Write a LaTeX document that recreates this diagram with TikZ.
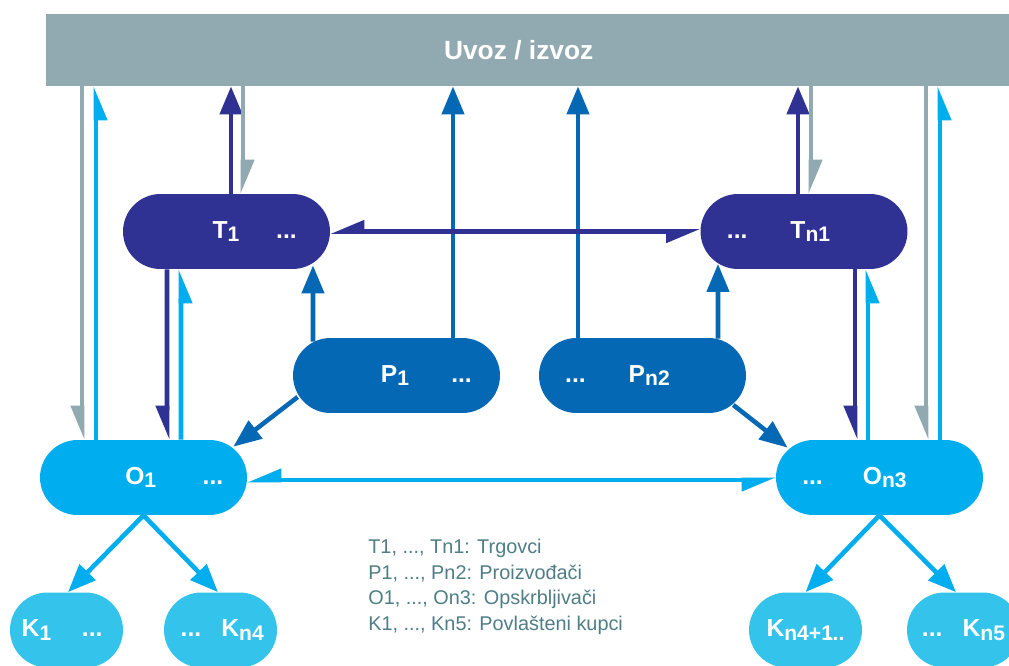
\documentclass[tikz,border=0pt]{standalone}
\usepackage{fontspec}
\setmainfont{Liberation Sans}
\usetikzlibrary{arrows.meta,calc}

\definecolor{hdrgray}{RGB}{145,169,176}
\definecolor{trdnavy}{RGB}{48,50,147}
\definecolor{prdblue}{RGB}{4,104,180}
\definecolor{supcyan}{RGB}{0,174,239}
\definecolor{cuscyan}{RGB}{51,195,235}
\definecolor{legteal}{RGB}{79,126,134}

\newcommand{\idx}[1]{\raisebox{-2pt}{\fontsize{12}{12}\selectfont #1}}

\begin{document}
\begin{tikzpicture}[
    x=0.02cm, y=-0.02cm,
    hdr/.style={rectangle, fill=hdrgray, minimum width=19.26cm, minimum height=1.44cm, inner sep=0pt, text=white, font=\fontsize{15}{15}\selectfont\bfseries},
    box/.style={rectangle, rounded corners=0.75cm, minimum height=1.5cm, inner sep=0pt, text=white, font=\fontsize{14}{14}\selectfont\bfseries},
    trader/.style={box, fill=trdnavy, minimum width=4.14cm},
    producer/.style={box, fill=prdblue, minimum width=4.14cm},
    supplier/.style={box, fill=supcyan, minimum width=4.14cm},
    customer/.style={box, fill=cuscyan, minimum width=2.26cm},
    flow/.style={line width=2.6pt, -{Triangle[length=16pt, width=12.5pt]}},
    halfr/.style={line width=2.6pt, -{Triangle[length=16pt, width=12.5pt, right]}},
    halfl/.style={line width=2.6pt, -{Triangle[length=16pt, width=12.5pt, left]}},
    both/.style={line width=2.6pt, {Triangle[length=16pt, width=12.5pt, right]}-{Triangle[length=16pt, width=12.5pt, right]}}
]
    \path[use as bounding box, fill=white] (0,0) rectangle (1009,666);

    % Import / export bar
    \node[hdr] (io) at (527.5,50) {Uvoz / izvoz\hspace*{10pt}};

    % Traders, producers, suppliers
    \node[trader] (t1) at (226.5,231.5) {\hspace*{32pt}T\idx{1}\hspace{21pt}...};
    \node[trader] (tn1) at (804,231.5) {...\hspace{24.5pt}T\idx{n1}\hspace*{29pt}};
    \node[producer] (p1) at (396.5,375.5) {\hspace*{34pt}P\idx{1}\hspace{24pt}...};
    \node[producer] (pn2) at (642.5,375.5) {...\hspace{24.5pt}P\idx{n2}\hspace*{28.5pt}};
    \node[supplier] (o1) at (143.5,477.5) {\hspace*{35pt}O\idx{1}\hspace{26.5pt}...};
    \node[supplier] (on3) at (879.5,477.5) {...\hspace{22.8pt}O\idx{n3}\hspace*{28.5pt}};

    % Eligible customers
    \node[customer] (k1) at (66.5,630) {K\idx{1}\hspace{17.5pt}...\hspace*{5pt}};
    \node[customer] (kn4) at (220.5,630) {\hspace*{2pt}...\hspace{11.5pt}K\idx{n4}};
    \node[customer] (kn41) at (805.5,630) {K\idx{n4+1\kern-3.5pt...}};
    \node[customer] (kn5) at (963.5,630) {...\hspace{11.5pt}K\idx{n5}};

    % Legend
    \node[anchor=north west, align=left, inner sep=0pt, text=legteal, font=\fontsize{11.3}{14.5}\selectfont] (legend) at (368,539)
        {T1, ..., Tn1: Trgovci\\P1, ..., Pn2: Proizvođači\\O1, ..., On3: Opskrbljivači\\K1, ..., Kn5: Povlašteni kupci};

    % Links to the import / export bar
    \draw[halfr, hdrgray] ($(io.south -| o1.north)+(-61.5,0)$) -- ($(o1.north)+(-61.5,0)$);
    \draw[halfr, supcyan] ($(o1.north)+(-47.5,0)$) -- ($(io.south -| o1.north)+(-47.5,0)$);
    \draw[flow, trdnavy] ($(t1.north)+(4.5,0)$) -- ($(io.south -| t1.north)+(4.5,0)$);
    \draw[halfl, hdrgray] ($(io.south -| t1.north)+(16.5,0)$) -- ($(t1.north)+(16.5,0)$);
    \draw[flow, prdblue] ($(p1.north)+(56.5,0)$) -- ($(io.south -| p1.north)+(56.5,0)$);
    \draw[flow, prdblue] ($(pn2.north)+(-64.5,0)$) -- ($(io.south -| pn2.north)+(-64.5,0)$);
    \draw[flow, trdnavy] ($(tn1.north)+(-6,0)$) -- ($(io.south -| tn1.north)+(-6,0)$);
    \draw[halfl, hdrgray] ($(io.south -| tn1.north)+(7,0)$) -- ($(tn1.north)+(7,0)$);
    \draw[halfr, hdrgray] ($(io.south -| on3.north)+(46.5,0)$) -- ($(on3.north)+(46.5,0)$);
    \draw[halfr, supcyan] ($(on3.north)+(60.5,0)$) -- ($(io.south -| on3.north)+(60.5,0)$);

    % Producers to traders and suppliers
    \draw[flow, prdblue] ($(p1.north)+(-83.5,4)$) -- ($(t1.south)+(86.5,-4)$);
    \draw[flow, prdblue] ($(pn2.north)+(75.5,1)$) -- ($(tn1.south)+(-86,-5.5)$);
    \draw[flow, prdblue] ($(p1.west)+(5,21.5)$) -- ($(o1.north east)+(-14,7)$);
    \draw[flow, prdblue] ($(pn2.east)+(-13,29.5)$) -- ($(on3.north west)+(12,8)$);

    % Traders and suppliers
    \draw[halfr, trdnavy] ($(t1.south)+(-59.5,0)$) -- ($(o1.north)+(23.5,0)$);
    \draw[halfr, supcyan] ($(o1.north)+(37.5,0)$) -- ($(t1.south)+(-45.5,0)$);
    \draw[halfr, trdnavy] ($(tn1.south)+(51,0)$) -- ($(on3.north)+(-24.5,0)$);
    \draw[halfr, supcyan] ($(on3.north)+(-11.5,0)$) -- ($(tn1.south)+(64,0)$);
    \draw[both, trdnavy] (t1) -- (tn1);
    \draw[both, supcyan] ($(o1.east)+(0,2.5)$) -- ($(on3.west)+(0,2.5)$);

    % Suppliers to customers
    \draw[flow, supcyan] (o1.south) -- ($(k1.north)+(1.5,0)$);
    \draw[flow, supcyan] (o1.south) -- ($(kn4.north)+(-2.5,0)$);
    \draw[flow, supcyan] (on3.south) -- (kn41.north);
    \draw[flow, supcyan] (on3.south) -- ($(kn5.north)+(-7.5,0)$);
\end{tikzpicture}
\end{document}
